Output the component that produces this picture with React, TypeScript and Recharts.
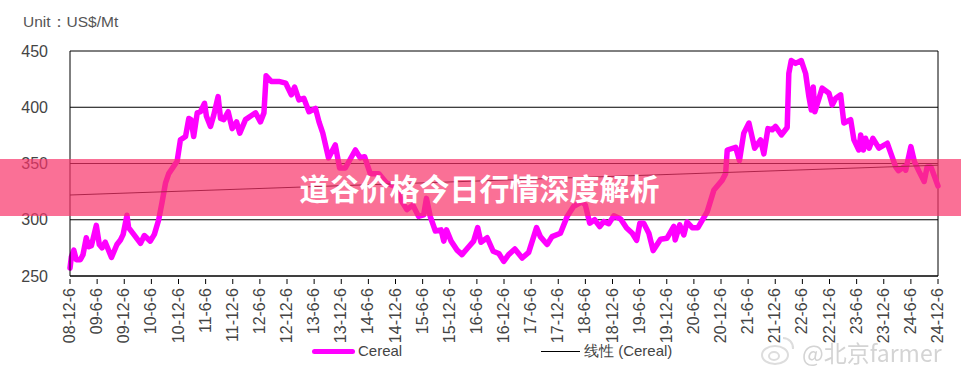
import { CartesianGrid, Legend, Line, LineChart, ReferenceLine, XAxis, YAxis } from "recharts";

const tickLabels = [
  "08-12-6", "09-6-6", "09-12-6", "10-6-6", "10-12-6", "11-6-6", "11-12-6", "12-6-6", "12-12-6",
  "13-6-6", "13-12-6", "14-6-6", "14-12-6", "15-6-6", "15-12-6", "16-6-6", "16-12-6", "17-6-6",
  "17-12-6", "18-6-6", "18-12-6", "19-6-6", "19-12-6", "20-6-6", "20-12-6", "21-6-6", "21-12-6",
  "22-6-6", "22-12-6", "23-6-6", "23-12-6", "24-6-6", "24-12-6",
];

// position along the axis, in half-years since 08-12-6
const periods = [
  0, 0.05, 0.14, 0.23, 0.38, 0.48, 0.6, 0.69, 0.79, 0.97, 1.08, 1.18, 1.3, 1.53, 1.73, 1.86, 1.96, 2.1, 2.16, 2.35,
  2.6, 2.74, 2.96, 3.11, 3.27, 3.39, 3.52, 3.64, 3.95, 4.07, 4.26, 4.38, 4.46, 4.56, 4.69, 4.81, 4.96, 5.03, 5.18, 5.3,
  5.46, 5.55, 5.67, 5.83, 5.98, 6.14, 6.26, 6.47, 6.65, 6.84, 7.02, 7.15, 7.23, 7.42, 7.7, 7.95, 8.16, 8.28, 8.44, 8.62,
  8.81, 9.05, 9.18, 9.32, 9.53, 9.78, 9.94, 10.15, 10.52, 10.7, 10.86, 11.07, 11.38, 11.68, 11.99, 12.24, 12.42, 12.64, 12.85, 13.04,
  13.14, 13.28, 13.47, 13.68, 13.78, 13.88, 14.05, 14.27, 14.45, 14.7, 14.88, 15.03, 15.15, 15.38, 15.6, 15.81, 15.99, 16.17, 16.4, 16.67,
  16.91, 17.2, 17.34, 17.59, 17.77, 18.08, 18.33, 18.57, 18.88, 19, 19.16, 19.34, 19.53, 19.68, 19.86, 20.05, 20.3, 20.52, 20.73, 20.89,
  21.01, 21.15, 21.34, 21.5, 21.77, 22.01, 22.26, 22.31, 22.48, 22.63, 22.75, 22.94, 23.15, 23.49, 23.74, 24.04, 24.17, 24.23, 24.54, 24.68,
  24.84, 25.03, 25.24, 25.46, 25.58, 25.73, 25.89, 26.01, 26.23, 26.44, 26.5, 26.59, 26.75, 26.96, 27.12, 27.24, 27.33, 27.4, 27.46, 27.73,
  27.98, 28.1, 28.23, 28.41, 28.53, 28.78, 28.9, 29.08, 29.15, 29.25, 29.33, 29.46, 29.6, 29.82, 30.13, 30.44, 30.54, 30.75, 30.81, 31,
  31.13, 31.3, 31.49, 31.6, 31.74, 32,
];

const cereal = [
  257, 267, 273, 264.5, 264.5, 269, 284, 276, 277, 295, 278, 275, 280, 266.5, 278, 282, 287, 304, 293, 287,
  279, 286, 281, 287, 300, 315, 332.5, 341, 352, 371, 374, 390, 389, 374, 395, 396, 403.5, 392, 383, 393,
  409.5, 390, 389, 396, 381, 387, 377, 389, 392, 395, 387, 395, 428, 423, 423, 421.5, 411, 418, 406.5, 408,
  396, 399, 387, 377, 355, 366.5, 346, 346, 362, 355, 356, 341, 341, 332.5, 329.6, 316, 309, 313, 303, 304.4,
  319, 303, 290, 291, 281, 291, 281, 273, 269, 276, 281, 293, 280, 284, 272, 270, 263, 269, 274, 266,
  271, 293, 285, 278, 285, 288, 303, 312, 316, 313, 297, 300, 294, 298.5, 296.5, 303.5, 300.6, 292.6, 288, 281.7,
  297, 297, 288, 272.6, 282.7, 283.6, 294, 282, 295.4, 286.5, 298, 293, 293, 307, 326.5, 335, 341, 362, 364.4, 352.6,
  377, 386, 363.6, 371, 358.5, 381, 380, 383, 375.4, 382, 430, 441.5, 439, 441.5, 430, 409.5, 397.6, 418, 396, 417,
  412.4, 402, 408, 411, 386, 389, 371, 362, 375.4, 362, 372.4, 363.6, 372.4, 363.6, 368, 347, 343.7, 347, 344, 365,
  351.7, 343, 334, 347, 347, 330,
];

const trendStart = 322;
const trendEnd = 348.5;

const yTicks = [250, 300, 350, 400, 450];
const tickPositions = tickLabels.map((_, i) => i);

const rows = periods.map((period, i) => ({
  period,
  cereal: cereal[i],
  trend: i === 0 ? trendStart : i === periods.length - 1 ? trendEnd : null,
}));

const TEXT = "#444";
const FONT = "'Liberation Sans', Arial, sans-serif";

function XTick({ x, y, payload }: any) {
  return (
    <g>
      <line x1={x} x2={x} y1={y - 5} y2={y} stroke="#000" />
      <text
        x={x + 5}
        y={288}
        transform={`rotate(-90 ${x + 5} 288)`}
        textAnchor="end"
        fontSize={16}
        fontFamily={FONT}
        fill={TEXT}
      >
        {tickLabels[payload.value]}
      </text>
    </g>
  );
}

function LegendRow() {
  return (
    <div style={{ position: "relative", width: 400, height: 20, fontFamily: FONT, fontSize: 15, color: TEXT }}>
      <div style={{ position: "absolute", left: 0, top: 8, width: 43, height: 5, borderRadius: 3, background: "#f0f" }} />
      <span style={{ position: "absolute", left: 46, top: 1 }}>Cereal</span>
      <div style={{ position: "absolute", left: 229, top: 10, width: 39, height: 1, background: "#000" }} />
      <span style={{ position: "absolute", left: 272, top: 1 }}>线性 (Cereal)</span>
    </div>
  );
}

export default function App() {
  return (
    <div style={{ position: "absolute", left: 0, top: 0, width: 961, height: 376, background: "#fff", overflow: "hidden" }}>
      <LineChart
        width={961}
        height={376}
        data={rows}
        margin={{ top: 51, right: 23, left: 0, bottom: 0 }}
      >
        <CartesianGrid vertical={false} stroke="#000" strokeWidth={1} />
        <XAxis
          dataKey="period"
          type="number"
          domain={[0, 32]}
          ticks={tickPositions}
          interval={0}
          height={100}
          axisLine={{ stroke: "#000" }}
          tickLine={false}
          tick={<XTick />}
        />
        <YAxis
          domain={[250, 450]}
          ticks={yTicks}
          width={70}
          axisLine={{ stroke: "#000" }}
          tickLine={false}
          tickMargin={16}
          tick={{ fill: TEXT, fontSize: 16, fontFamily: FONT }}
        />
        <ReferenceLine x={32} stroke="#000" />
        <Legend
          layout="horizontal"
          verticalAlign="middle"
          align="center"
          wrapperStyle={{ left: 312, top: 341, width: 400, height: 20 }}
          content={<LegendRow />}
        />
        <Line
          dataKey="cereal"
          stroke="#ff00ff"
          strokeWidth={5.5}
          strokeLinejoin="round"
          strokeLinecap="round"
          dot={false}
          isAnimationActive={false}
        />
        <Line
          dataKey="trend"
          stroke="#000"
          strokeWidth={1}
          connectNulls
          dot={false}
          isAnimationActive={false}
        />
      </LineChart>
      <div style={{ position: "absolute", left: 23, top: 12, fontFamily: FONT, fontSize: 15.5, color: "#555", whiteSpace: "pre" }}>
        Unit：US$/Mt
      </div>
      <div style={{ position: "absolute", left: 0, top: 159, width: 961, height: 57, background: "rgba(248,51,105,0.7)" }} />
      <div
        style={{
          position: "absolute",
          left: 0,
          top: 159,
          width: 961,
          height: 57,
          lineHeight: "57px",
          textAlign: "center",
          paddingRight: 2,
          boxSizing: "border-box",
          fontFamily: "'Noto Sans CJK SC', sans-serif",
          fontWeight: 700,
          fontSize: 30,
          color: "#fff",
        }}
      >
        道谷价格今日行情深度解析
      </div>
      <svg style={{ position: "absolute", left: 760, top: 334, filter: "blur(0.5px)" }} width={36} height={32}>
        <ellipse cx={15} cy={21} rx={13} ry={9} fill="none" stroke="#ddd" strokeWidth={2} />
        <ellipse cx={14} cy={22} rx={5} ry={4} fill="none" stroke="#ddd" strokeWidth={2} />
        <path d="M23 4 A10 10 0 0 1 33 15" fill="none" stroke="#ddd" strokeWidth={2} />
      </svg>
      <div
        style={{
          position: "absolute",
          left: 802,
          top: 335,
          fontFamily: "'Noto Sans CJK SC', sans-serif",
          fontSize: 23,
          color: "#d4d4d4",
          filter: "blur(0.6px)",
          whiteSpace: "pre",
        }}
      >
        @北京farmer
      </div>
    </div>
  );
}
